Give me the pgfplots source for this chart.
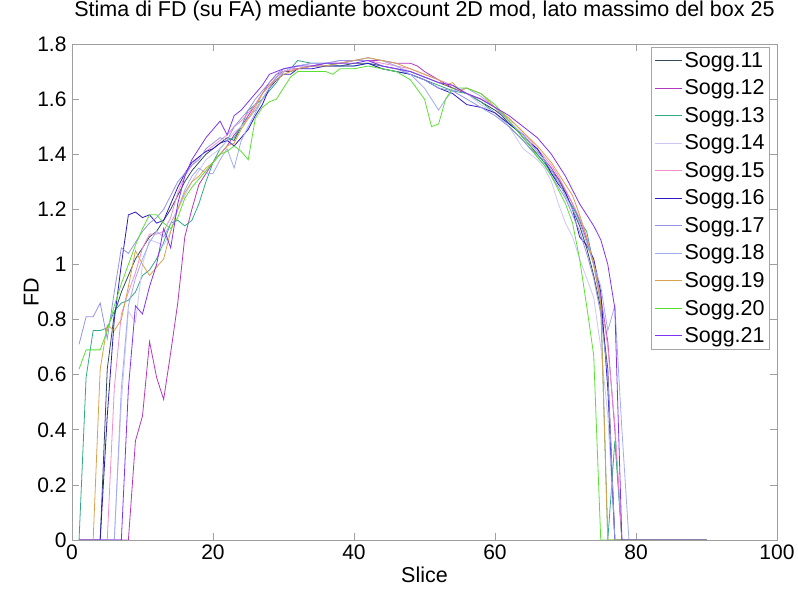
\documentclass[border=0pt]{standalone}
\usepackage{fontspec}
\setmainfont{Liberation Sans}
\usepackage{pgfplots}
\pgfplotsset{compat=1.18}
\definecolor{c11}{rgb}{0.20,0.30,0.36}
\definecolor{c12}{rgb}{0.70,0.22,0.75}
\definecolor{c13}{rgb}{0.20,0.66,0.53}
\definecolor{c14}{rgb}{0.80,0.78,0.96}
\definecolor{c15}{rgb}{0.95,0.55,0.80}
\definecolor{c16}{rgb}{0.18,0.10,0.78}
\definecolor{c17}{rgb}{0.58,0.58,0.90}
\definecolor{c18}{rgb}{0.63,0.67,0.95}
\definecolor{c19}{rgb}{0.85,0.63,0.30}
\definecolor{c20}{rgb}{0.35,0.88,0.20}
\definecolor{c21}{rgb}{0.50,0.20,0.95}
\begin{document}
\begin{tikzpicture}
\useasboundingbox (-72pt,-59pt) rectangle (726pt,540pt);
\begin{axis}[
  scale only axis, width=705pt, height=496pt,
  xmin=0, xmax=100, ymin=0, ymax=1.8,
  xtick={0,20,...,100}, ytick={0,0.2,...,1.8},
  tick align=inside, tick pos=both, major tick length=7pt,
  /pgf/number format/assume math mode=true,
  tick label style={font=\fontsize{21}{24}\selectfont},
  yticklabel style={xshift=-2pt},
  xticklabel style={yshift=-1pt},
  title={Stima di FD (su FA) mediante boxcount 2D mod, lato massimo del box 25},
  title style={font=\fontsize{21.5}{24}\selectfont, at={(axis description cs:0.5,1)}, anchor=base, yshift=21pt},
  xlabel={Slice}, ylabel={FD},
  xlabel style={font=\fontsize{21.5}{24}\selectfont, at={(axis description cs:0.5,0)}, anchor=base, yshift=-43pt},
  ylabel style={font=\fontsize{21.5}{24}\selectfont, at={(axis description cs:-0.058,0.5)}, anchor=center},
  axis line style={gray!75, line width=0.7pt},
  every tick/.style={gray!75, line width=0.6pt},
  legend style={at={(1,1)}, anchor=north east, xshift=-7pt, yshift=-3pt, draw=gray!70, line width=0.8pt,
    font=\fontsize{21.5}{24}\selectfont, row sep=7pt, inner sep=3pt, cells={anchor=west}},
  legend image code/.code={\draw[#1, line width=0.9pt] (0pt,0pt) -- (27pt,0pt);},
  every axis plot/.append style={line width=0.8pt},
]
\addplot[c11] coordinates {(1,0)(4,0)(5,0.62)(6,0.82)(7,0.9)(8,0.96)(9,1.02)(10,1.06)(11,1.1)(12,1.12)(13,1.16)(14,1.2)(15,1.25)(16,1.3)(17,1.34)(18,1.37)(19,1.4)(20,1.42)(21,1.44)(22,1.46)(23,1.45)(24,1.5)(25,1.53)(26,1.56)(27,1.6)(28,1.64)(29,1.68)(30,1.7)(31,1.7)(32,1.71)(34,1.72)(36,1.72)(38,1.72)(40,1.73)(42,1.73)(44,1.72)(46,1.71)(48,1.7)(50,1.68)(52,1.66)(54,1.64)(56,1.62)(58,1.59)(60,1.56)(61,1.54)(62,1.51)(63,1.49)(64,1.46)(65,1.43)(66,1.4)(67,1.37)(68,1.34)(69,1.31)(70,1.26)(71,1.2)(72,1.14)(73,1.06)(74,0.96)(75,0.84)(76,0.62)(77,0)(90,0)};
\addlegendentry{Sogg.11}
\addplot[c12] coordinates {(1,0)(8,0)(9,0.36)(10,0.45)(11,0.72)(12,0.59)(13,0.51)(14,0.68)(15,0.86)(16,1.1)(17,1.2)(18,1.29)(19,1.33)(20,1.37)(21,1.4)(22,1.43)(23,1.47)(24,1.5)(25,1.54)(26,1.58)(27,1.62)(28,1.66)(29,1.69)(30,1.7)(31,1.71)(32,1.71)(34,1.72)(36,1.73)(38,1.73)(40,1.74)(42,1.74)(44,1.74)(46,1.73)(47,1.73)(48,1.73)(49,1.72)(50,1.7)(52,1.67)(54,1.64)(56,1.62)(58,1.6)(60,1.57)(62,1.52)(63,1.49)(64,1.47)(65,1.44)(66,1.41)(67,1.38)(68,1.35)(69,1.31)(70,1.27)(71,1.22)(72,1.16)(73,1.09)(74,1.0)(75,0.88)(76,0.72)(77,0.4)(78,0)(90,0)};
\addlegendentry{Sogg.12}
\addplot[c13] coordinates {(1,0)(2,0.59)(3,0.76)(4,0.76)(5,0.77)(6,0.83)(7,0.86)(8,0.87)(9,0.9)(10,0.96)(11,0.98)(12,1.02)(13,1.08)(14,1.15)(15,1.16)(16,1.14)(17,1.16)(18,1.22)(19,1.3)(20,1.37)(21,1.42)(22,1.45)(23,1.46)(24,1.5)(25,1.56)(26,1.58)(27,1.6)(28,1.63)(29,1.66)(30,1.7)(31,1.71)(32,1.74)(34,1.73)(36,1.73)(38,1.72)(40,1.72)(42,1.73)(44,1.71)(46,1.7)(48,1.69)(50,1.67)(52,1.65)(54,1.63)(56,1.62)(58,1.59)(60,1.55)(62,1.5)(64,1.45)(65,1.42)(66,1.4)(67,1.37)(68,1.33)(69,1.3)(70,1.25)(71,1.21)(72,1.16)(73,1.12)(74,1.0)(75,0.86)(76,0)(77,0.36)(78,0)(90,0)};
\addlegendentry{Sogg.13}
\addplot[c14] coordinates {(1,0)(6,0)(7,0.5)(8,0.83)(9,0.79)(10,1.0)(11,1.09)(12,1.08)(13,1.07)(14,1.12)(15,1.2)(16,1.25)(17,1.3)(18,1.34)(19,1.38)(20,1.4)(21,1.42)(22,1.45)(23,1.48)(24,1.5)(25,1.53)(26,1.56)(27,1.6)(28,1.64)(29,1.67)(30,1.7)(32,1.72)(34,1.73)(36,1.73)(38,1.74)(40,1.74)(42,1.75)(44,1.74)(46,1.72)(48,1.7)(50,1.68)(52,1.66)(54,1.65)(56,1.62)(58,1.58)(60,1.55)(62,1.5)(63,1.46)(64,1.42)(65,1.4)(66,1.38)(67,1.35)(68,1.3)(69,1.22)(70,1.15)(71,1.1)(72,1.02)(73,0.95)(74,0.88)(75,0.7)(76,0.45)(77,0)(90,0)};
\addlegendentry{Sogg.14}
\addplot[c15] coordinates {(1,0)(5,0)(6,0.55)(7,0.82)(8,0.9)(9,0.97)(10,1.06)(11,1.11)(12,1.11)(13,1.12)(14,1.17)(15,1.26)(16,1.32)(17,1.36)(18,1.39)(19,1.41)(20,1.43)(21,1.45)(22,1.47)(23,1.5)(24,1.52)(25,1.55)(26,1.58)(27,1.62)(28,1.65)(29,1.68)(30,1.7)(32,1.71)(34,1.72)(36,1.73)(38,1.73)(40,1.74)(42,1.74)(44,1.73)(46,1.72)(48,1.71)(50,1.69)(52,1.67)(54,1.65)(56,1.62)(58,1.6)(60,1.57)(62,1.53)(64,1.48)(65,1.45)(66,1.42)(67,1.39)(68,1.36)(69,1.32)(70,1.27)(71,1.22)(72,1.17)(73,1.1)(74,1.0)(75,0.88)(76,0.7)(77,0.42)(78,0)(90,0)};
\addlegendentry{Sogg.15}
\addplot[c16] coordinates {(1,0)(4,0)(5,0.45)(6,0.8)(7,1.0)(8,1.18)(9,1.19)(10,1.17)(11,1.18)(12,1.15)(13,1.16)(14,1.22)(15,1.28)(16,1.33)(17,1.37)(18,1.39)(19,1.41)(20,1.42)(21,1.44)(22,1.45)(23,1.43)(24,1.46)(25,1.49)(26,1.54)(27,1.58)(28,1.64)(29,1.67)(30,1.69)(31,1.69)(32,1.71)(34,1.71)(36,1.72)(38,1.72)(40,1.72)(42,1.73)(44,1.71)(46,1.7)(48,1.69)(50,1.67)(52,1.64)(54,1.62)(56,1.58)(58,1.57)(60,1.55)(62,1.51)(64,1.47)(65,1.44)(66,1.42)(67,1.38)(68,1.33)(69,1.29)(70,1.26)(71,1.2)(72,1.1)(73,1.07)(74,1.02)(75,0.9)(76,0.55)(77,0)(90,0)};
\addlegendentry{Sogg.16}
\addplot[c17] coordinates {(1,0.71)(2,0.81)(3,0.81)(4,0.86)(5,0.73)(6,0.9)(7,1.06)(8,1.04)(9,1.08)(10,1.12)(11,1.15)(12,1.17)(13,1.2)(14,1.25)(15,1.3)(16,1.33)(17,1.36)(18,1.38)(19,1.42)(20,1.44)(21,1.46)(22,1.45)(23,1.5)(24,1.53)(25,1.56)(26,1.6)(27,1.63)(28,1.66)(29,1.69)(30,1.71)(32,1.72)(34,1.73)(36,1.73)(38,1.74)(40,1.74)(42,1.74)(44,1.72)(46,1.71)(48,1.69)(50,1.67)(52,1.64)(54,1.63)(56,1.6)(58,1.57)(60,1.54)(62,1.5)(64,1.45)(65,1.42)(66,1.39)(67,1.36)(68,1.32)(69,1.28)(70,1.24)(71,1.18)(72,1.12)(73,1.04)(74,0.95)(75,0.82)(76,0.6)(77,0)(90,0)};
\addlegendentry{Sogg.17}
\addplot[c18] coordinates {(1,0)(6,0)(7,0.55)(8,0.85)(9,0.95)(10,1.02)(11,1.08)(12,1.12)(13,1.1)(14,1.15)(15,1.2)(16,1.27)(17,1.32)(18,1.35)(19,1.33)(20,1.33)(21,1.38)(22,1.42)(23,1.35)(24,1.45)(25,1.5)(26,1.55)(27,1.6)(28,1.64)(29,1.68)(30,1.71)(32,1.72)(34,1.73)(36,1.73)(38,1.73)(40,1.74)(42,1.75)(44,1.74)(46,1.72)(48,1.69)(50,1.64)(51,1.6)(52,1.56)(53,1.6)(54,1.63)(56,1.64)(58,1.61)(60,1.57)(62,1.52)(64,1.47)(65,1.44)(66,1.41)(67,1.38)(68,1.34)(69,1.3)(70,1.25)(71,1.2)(72,1.15)(73,1.08)(74,1.0)(75,0.92)(76,0.76)(77,0.85)(78,0.4)(79,0)(90,0)};
\addlegendentry{Sogg.18}
\addplot[c19] coordinates {(1,0)(3,0)(4,0.62)(5,0.78)(6,0.76)(7,0.8)(8,0.92)(9,1.05)(10,1.0)(11,0.96)(12,0.99)(13,1.02)(14,1.12)(15,1.2)(16,1.26)(17,1.3)(18,1.32)(19,1.35)(20,1.37)(21,1.4)(22,1.43)(23,1.44)(24,1.49)(25,1.53)(26,1.57)(27,1.62)(28,1.65)(29,1.67)(30,1.69)(32,1.71)(34,1.72)(36,1.72)(38,1.73)(40,1.74)(42,1.75)(44,1.74)(46,1.73)(48,1.71)(50,1.69)(52,1.67)(53,1.65)(54,1.66)(55,1.63)(56,1.64)(58,1.62)(60,1.57)(62,1.53)(64,1.48)(66,1.43)(68,1.37)(70,1.29)(71,1.25)(72,1.18)(73,1.1)(74,1.0)(75,0.86)(76,0)(90,0)};
\addlegendentry{Sogg.19}
\addplot[c20] coordinates {(1,0.62)(2,0.69)(3,0.69)(4,0.69)(5,0.76)(6,0.85)(7,0.93)(8,1.0)(9,1.07)(10,1.13)(11,1.18)(12,1.18)(13,1.15)(14,1.13)(15,1.17)(16,1.24)(17,1.28)(18,1.31)(19,1.34)(20,1.37)(21,1.4)(22,1.41)(23,1.43)(24,1.41)(25,1.38)(26,1.53)(27,1.57)(28,1.59)(29,1.6)(30,1.64)(31,1.68)(32,1.7)(33,1.7)(34,1.7)(36,1.7)(37,1.69)(38,1.71)(40,1.71)(42,1.72)(44,1.71)(46,1.7)(48,1.67)(50,1.6)(51,1.5)(52,1.51)(53,1.6)(54,1.64)(56,1.64)(58,1.62)(60,1.58)(62,1.52)(64,1.46)(65,1.43)(66,1.39)(67,1.36)(68,1.32)(69,1.27)(70,1.22)(71,1.15)(72,1.02)(73,0.85)(74,0.67)(75,0)(90,0)};
\addlegendentry{Sogg.20}
\addplot[c21] coordinates {(1,0)(7,0)(8,0.55)(9,0.85)(10,0.82)(11,0.92)(12,1.0)(13,1.13)(14,1.06)(15,1.22)(16,1.32)(17,1.38)(18,1.42)(19,1.46)(20,1.49)(21,1.52)(22,1.47)(23,1.54)(24,1.56)(25,1.59)(26,1.62)(27,1.65)(28,1.69)(29,1.7)(30,1.71)(32,1.72)(34,1.72)(36,1.73)(38,1.73)(40,1.73)(42,1.74)(44,1.72)(46,1.71)(48,1.7)(50,1.68)(52,1.66)(54,1.65)(56,1.62)(58,1.6)(60,1.57)(62,1.54)(64,1.5)(65,1.48)(66,1.46)(67,1.43)(68,1.4)(69,1.36)(70,1.32)(71,1.27)(72,1.22)(73,1.18)(74,1.14)(75,1.09)(76,1.0)(77,0.84)(78,0)(90,0)};
\addlegendentry{Sogg.21}
\end{axis}
\end{tikzpicture}
\end{document}
